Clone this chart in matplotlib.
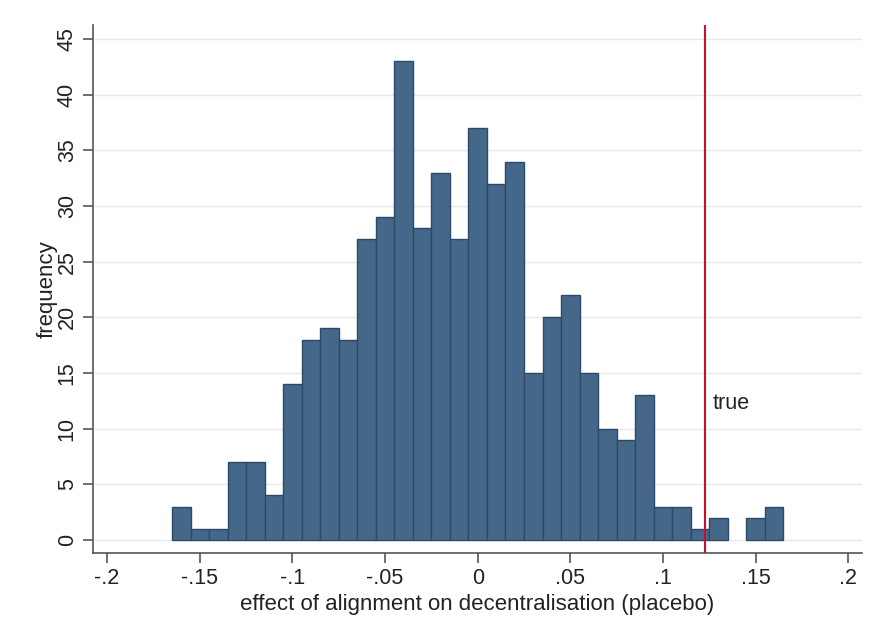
import numpy as np
import matplotlib.pyplot as plt

plt.rcParams['font.family'] = ['Liberation Sans', 'DejaVu Sans']

# bin centres (width 0.01) and counts
bin_centers = [-0.16, -0.15, -0.14, -0.13, -0.12, -0.11, -0.10, -0.09, -0.08, -0.07, -0.06,
               -0.05, -0.04, -0.03, -0.02, -0.01, 0.00, 0.01, 0.02, 0.03, 0.04, 0.05,
               0.06, 0.07, 0.08, 0.09, 0.10, 0.11, 0.12, 0.13, 0.14, 0.15, 0.16]
counts = [3, 1, 1, 7, 7, 4, 14, 18, 19, 18, 27,
          29, 43, 28, 33, 27, 37, 32, 34, 15, 20, 22,
          15, 10, 9, 13, 3, 3, 1, 2, 0, 2, 3]
true_effect = 0.1227
x_ticks = [-0.2, -0.15, -0.1, -0.05, 0, 0.05, 0.1, 0.15, 0.2]
x_labels = ['-.2', '-.15', '-.1', '-.05', '0', '.05', '.1', '.15', '.2']
y_ticks = [0, 5, 10, 15, 20, 25, 30, 35, 40, 45]

fig = plt.figure(figsize=(8.72, 6.32), dpi=100)
ax = fig.add_axes([0.1067, 0.125, 0.8818, 0.8354])

# empty bins draw nothing
xs = [c for c, n in zip(bin_centers, counts) if n > 0]
ns = [n for n in counts if n > 0]
ax.bar(xs, ns, width=0.01, color='#456789', edgecolor='#2c4966', linewidth=1.0, zorder=3)
ax.axvline(true_effect, color='#c8102e', lw=1.5, zorder=4)
ax.text(0.1267, 12.3, 'true', fontsize=15.5, va='center', ha='left', color='#222222')

ax.set_xlim(-0.2076, 0.2074)
ax.set_ylim(-1.17, 46.26)
ax.set_xticks(x_ticks)
ax.set_xticklabels(x_labels)
ax.set_yticks(y_ticks)
ax.set_yticklabels([str(v) for v in y_ticks], rotation=90, va='center')
ax.tick_params(labelsize=15.5, length=7, width=1.2, color='#555555', labelcolor='#222222', pad=4)
ax.grid(axis='y', color='#e8e8e8', lw=1.0, zorder=0)

for s in ['top', 'right']:
    ax.spines[s].set_visible(False)
for s in ['left', 'bottom']:
    ax.spines[s].set_color('#555555')
    ax.spines[s].set_linewidth(1.2)

ax.set_xlabel('effect of alignment on decentralisation (placebo)', fontsize=16, color='#222222')
ax.set_ylabel('frequency', fontsize=16, color='#222222')
ax.xaxis.set_label_coords(0.5, -0.077)
ax.yaxis.set_label_coords(-0.046, 0.5)

fig.savefig('out.png', dpi=100, facecolor='white')
